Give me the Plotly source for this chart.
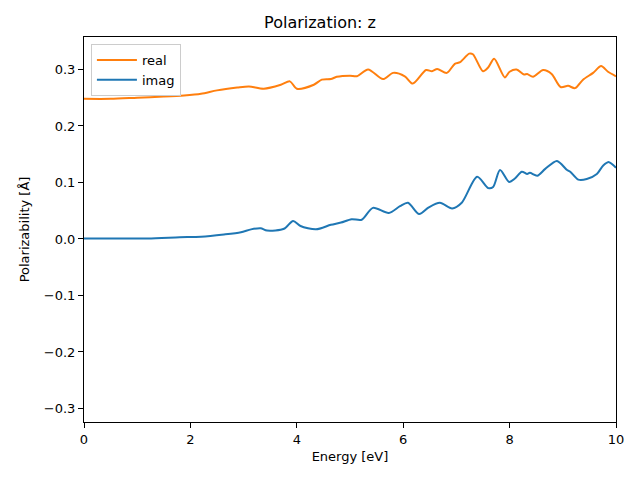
import plotly.graph_objects as go

energy_real = [0.0, 0.5, 1.0, 1.5, 1.88, 2.2, 2.5, 2.88, 3.1, 3.38, 3.7, 3.87, 4.0, 4.32, 4.47, 4.64,
               4.75, 5.0, 5.13, 5.34, 5.62, 5.81, 6.03, 6.18, 6.43, 6.54, 6.64, 6.82, 6.97, 7.07,
               7.24, 7.31, 7.5, 7.6, 7.71, 7.91, 8.0, 8.13, 8.27, 8.33, 8.44, 8.63, 8.79, 8.96,
               9.1, 9.23, 9.38, 9.57, 9.72, 9.85, 10.0]
real = [0.248, 0.248, 0.250, 0.252, 0.254, 0.257, 0.263, 0.268, 0.270, 0.266, 0.273, 0.279, 0.266,
        0.273, 0.282, 0.283, 0.287, 0.289, 0.288, 0.300, 0.283, 0.294, 0.288, 0.275, 0.299, 0.297,
        0.301, 0.294, 0.310, 0.313, 0.328, 0.327, 0.297, 0.304, 0.319, 0.286, 0.296, 0.300, 0.291,
        0.292, 0.287, 0.299, 0.292, 0.269, 0.271, 0.267, 0.282, 0.294, 0.306, 0.296, 0.288]

energy_imag = [0.0, 0.6, 1.2, 1.8, 2.2, 2.63, 2.95, 3.14, 3.32, 3.44, 3.76, 3.93, 4.07, 4.36, 4.64,
               4.83, 5.03, 5.22, 5.43, 5.73, 5.94, 6.09, 6.3, 6.48, 6.69, 6.92, 7.1, 7.39, 7.6, 7.69,
               7.82, 7.99, 8.1, 8.23, 8.33, 8.38, 8.52, 8.67, 8.89, 9.08, 9.14, 9.29, 9.45, 9.64,
               9.76, 9.87, 10.0]
imag = [0.001, 0.001, 0.001, 0.003, 0.004, 0.008, 0.012, 0.017, 0.019, 0.015, 0.018, 0.032, 0.023,
        0.017, 0.025, 0.029, 0.035, 0.034, 0.055, 0.046, 0.058, 0.064, 0.044, 0.056, 0.064, 0.054,
        0.064, 0.110, 0.090, 0.092, 0.122, 0.101, 0.107, 0.119, 0.115, 0.117, 0.112, 0.124, 0.138,
        0.122, 0.119, 0.105, 0.106, 0.115, 0.130, 0.136, 0.126]

x_ticks = [0, 2, 4, 6, 8, 10]
y_ticks = [-0.3, -0.2, -0.1, 0.0, 0.1, 0.2, 0.3]

fig = go.Figure()
fig.add_trace(go.Scatter(x=energy_real, y=real, mode="lines", name="real",
                         line=dict(color="#ff7f0e", width=2, shape="spline", smoothing=0.8)))
fig.add_trace(go.Scatter(x=energy_imag, y=imag, mode="lines", name="imag",
                         line=dict(color="#1f77b4", width=2, shape="spline", smoothing=0.8)))

axis_common = dict(showgrid=False, zeroline=False, showline=True, linecolor="black", linewidth=1,
                   mirror=True, ticks="outside", ticklen=5, tickcolor="black", automargin=False,
                   tickfont=dict(family="DejaVu Sans", size=13, color="black"))

fig.update_layout(
    width=640, height=480,
    margin=dict(l=84, r=24, t=37, b=58),
    paper_bgcolor="white", plot_bgcolor="white",
    title=dict(text="Polarization: z", x=0.5, xanchor="center", y=0.953, yanchor="middle",
               font=dict(family="DejaVu Sans", size=16, color="black")),
    xaxis=dict(range=[0, 10], tickvals=x_ticks, ticktext=[str(t) for t in x_ticks],
               title=dict(text="Energy [eV]", font=dict(family="DejaVu Sans", size=13, color="black"),
                          standoff=6),
               **axis_common),
    yaxis=dict(range=[-0.324, 0.3575], tickvals=y_ticks,
               ticktext=[f"{t:.1f}".replace("-", "\u2212") for t in y_ticks],
               title=dict(text="Polarizability [Å]", font=dict(family="DejaVu Sans", size=13, color="black"),
                          standoff=11),
               **axis_common),
    legend=dict(x=0.013, y=0.982, xanchor="left", yanchor="top", bgcolor="rgba(255,255,255,0.8)",
                bordercolor="#cccccc", borderwidth=1, itemwidth=40,
                font=dict(family="DejaVu Sans", size=13, color="black")),
    showlegend=True,
)

fig.write_html("out.html", config={"displayModeBar": False},
               post_script="document.body.style.margin='0';")
